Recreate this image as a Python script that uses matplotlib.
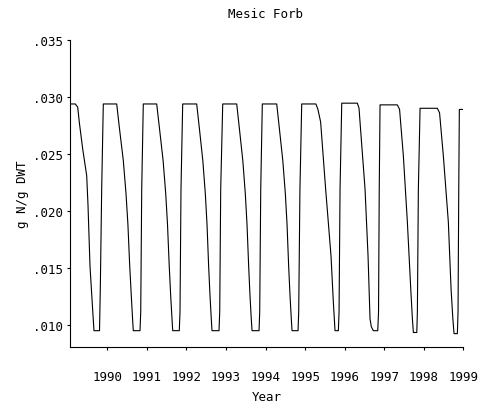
import matplotlib
matplotlib.use("Agg")
import matplotlib.pyplot as plt
from matplotlib.ticker import FuncFormatter

# Seasonal tissue nitrogen concentration, one row per growing season
year = [
    1989.057, 1989.191, 1989.252, 1989.292, 1989.378, 1989.479, 1989.512, 1989.563, 1989.621, 1989.663, 1989.803, 1989.823, 1989.858,
    1989.899, 1990.238, 1990.303, 1990.405, 1990.473, 1990.521, 1990.566, 1990.607, 1990.637, 1990.657, 1990.827, 1990.845, 1990.870,
    1990.910, 1991.249, 1991.315, 1991.411, 1991.477, 1991.522, 1991.565, 1991.603, 1991.634, 1991.654, 1991.820, 1991.838, 1991.863,
    1991.906, 1992.260, 1992.324, 1992.415, 1992.478, 1992.521, 1992.561, 1992.597, 1992.627, 1992.647, 1992.824, 1992.842, 1992.867,
    1992.918, 1993.272, 1993.335, 1993.426, 1993.489, 1993.532, 1993.573, 1993.608, 1993.638, 1993.659, 1993.836, 1993.853, 1993.879,
    1993.919, 1994.283, 1994.346, 1994.437, 1994.501, 1994.544, 1994.584, 1994.620, 1994.650, 1994.670, 1994.822, 1994.839, 1994.870,
    1994.915, 1995.274, 1995.325, 1995.393, 1995.520, 1995.656, 1995.714, 1995.757, 1995.841, 1995.859, 1995.884,
    1995.927, 1996.321, 1996.364, 1996.389, 1996.516, 1996.592, 1996.642, 1996.675, 1996.726, 1996.837, 1996.857, 1996.875,
    1996.895, 1997.333, 1997.389, 1997.485, 1997.586, 1997.672, 1997.713, 1997.738, 1997.824, 1997.839, 1997.864,
    1997.907, 1998.344, 1998.400, 1998.496, 1998.622, 1998.691, 1998.736, 1998.766, 1998.850, 1998.867, 1998.885,
    1998.900, 1999.000,
]
tissue_n = [
    0.02938, 0.02938, 0.02910, 0.02778, 0.02543, 0.02308, 0.02050, 0.01510, 0.01180, 0.00946, 0.00946, 0.01310, 0.02190,
    0.02938, 0.02938, 0.02736, 0.02440, 0.02150, 0.01880, 0.01520, 0.01250, 0.01060, 0.00946, 0.00946, 0.01110, 0.02190,
    0.02938, 0.02938, 0.02736, 0.02440, 0.02150, 0.01880, 0.01520, 0.01250, 0.01060, 0.00946, 0.00946, 0.01110, 0.02190,
    0.02938, 0.02938, 0.02736, 0.02440, 0.02150, 0.01880, 0.01520, 0.01250, 0.01060, 0.00946, 0.00946, 0.01110, 0.02190,
    0.02938, 0.02938, 0.02736, 0.02440, 0.02150, 0.01880, 0.01520, 0.01250, 0.01060, 0.00946, 0.00946, 0.01110, 0.02190,
    0.02938, 0.02938, 0.02736, 0.02440, 0.02150, 0.01880, 0.01520, 0.01250, 0.01060, 0.00946, 0.00946, 0.01110, 0.02190,
    0.02938, 0.02938, 0.02890, 0.02780, 0.02190, 0.01600, 0.01200, 0.00946, 0.00946, 0.01110, 0.02190,
    0.02945, 0.02945, 0.02900, 0.02780, 0.02190, 0.01600, 0.01050, 0.00980, 0.00946, 0.00946, 0.01110, 0.02190,
    0.02930, 0.02930, 0.02890, 0.02480, 0.01900, 0.01310, 0.01050, 0.00930, 0.00930, 0.01110, 0.02190,
    0.02900, 0.02900, 0.02860, 0.02480, 0.01900, 0.01310, 0.01050, 0.00920, 0.00920, 0.01110, 0.02190,
    0.02890, 0.02890,
]

x_ticks = [1990, 1991, 1992, 1993, 1994, 1995, 1996, 1997, 1998, 1999]
y_ticks = [0.010, 0.015, 0.020, 0.025, 0.030, 0.035]

mono = "DejaVu Sans Mono"
fig = plt.figure(figsize=(4.82, 4.10), dpi=100)
ax = fig.add_axes([70 / 482, 1 - 348.3 / 410, 393.3 / 482, 307.3 / 410])

ax.plot(year, tissue_n, color="black", lw=0.8)

ax.set_xlim(1989.057, 1999.0)
ax.set_ylim(0.0080, 0.035)
ax.set_xticks(x_ticks)
ax.set_yticks(y_ticks)
ax.yaxis.set_major_formatter(FuncFormatter(lambda v, p: f"{v:.3f}".lstrip("0")))
ax.xaxis.set_major_formatter(FuncFormatter(lambda v, p: f"{int(round(v))}"))

for s in ("top", "right"):
    ax.spines[s].set_visible(False)
for s in ("left", "bottom"):
    ax.spines[s].set_linewidth(0.8)

ax.tick_params(axis="both", direction="out", length=2.5, width=0.8, labelsize=9)
ax.tick_params(axis="x", pad=14)
ax.tick_params(axis="y", pad=2.5)
for lab in ax.get_xticklabels() + ax.get_yticklabels():
    lab.set_family(mono)

ax.set_xlabel("Year", family=mono, fontsize=9)
ax.xaxis.set_label_coords(0.5, -0.14)
ax.set_ylabel("g N/g DWT", family=mono, fontsize=9)
ax.yaxis.set_label_coords(-0.105, 0.5)

fig.text(266 / 482, 1 - 15 / 410, "Mesic Forb", family=mono, fontsize=9,
         ha="center", va="center")

fig.savefig("out.png", dpi=100)
